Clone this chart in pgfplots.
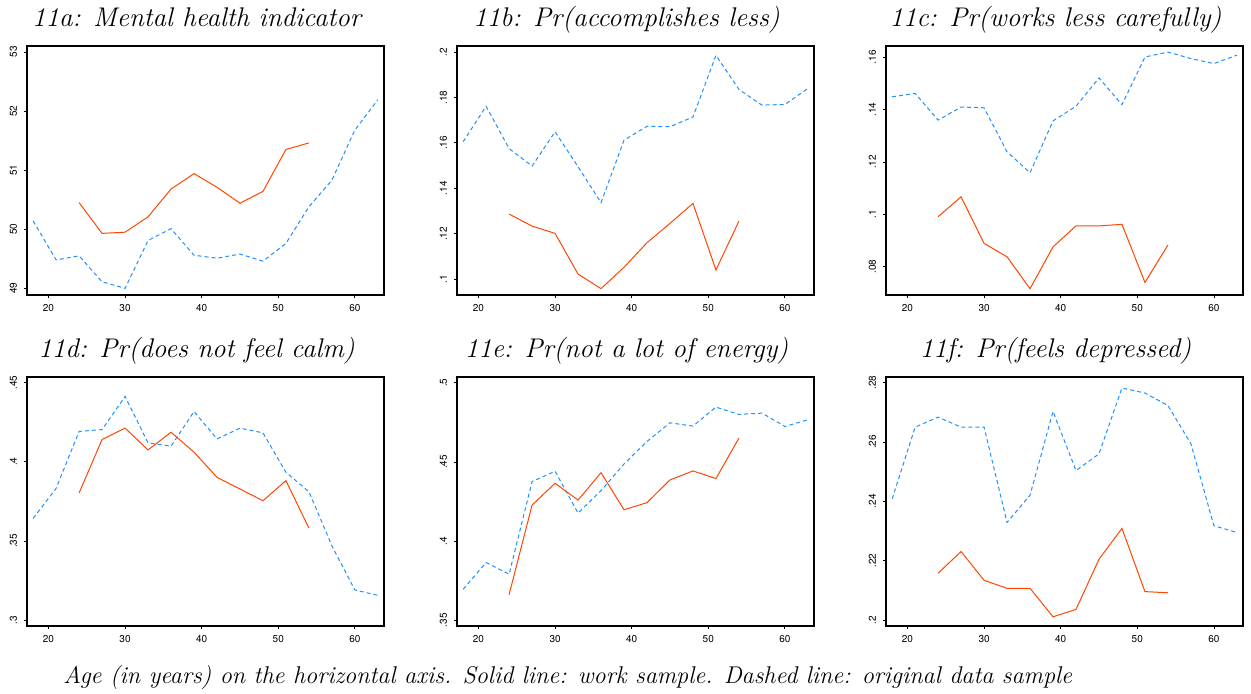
\documentclass[border=0pt]{standalone}
\usepackage{pgfplots}
\pgfplotsset{compat=1.18}
\usepackage{pgfplotstable}
\usepackage{fontspec}
\newfontfamily\tickfont{TeX Gyre Heros}
\definecolor{dblue}{RGB}{30,144,255}
\definecolor{ored}{RGB}{255,69,0}

% dashed: original data sample (ages 18..63); solid: work sample (ages 24..54)
\pgfplotstableread{
age a b c d e f
18 50.14 .1605 .1449 .3642 .3696 .2408
21 49.48 .1761 .1462 .3832 .3865 .2650
24 49.55 .1575 .1360 .4192 .3791 .2684
27 49.11 .1498 .1410 .4204 .4376 .2650
30 49.00 .1649 .1407 .4413 .4441 .2650
33 49.81 .1495 .1239 .4120 .4177 .2329
36 50.01 .1337 .1159 .4099 .4319 .2421
39 49.56 .1612 .1357 .4318 .4487 .2703
42 49.51 .1673 .1413 .4145 .4629 .2504
45 49.58 .1671 .1521 .4213 .4747 .2560
48 49.46 .1714 .1419 .4183 .4726 .2782
51 49.76 .1985 .1601 .3934 .4846 .2765
54 50.38 .1835 .1620 .3811 .4800 .2723
57 50.83 .1766 .1595 .3469 .4808 .2594
60 51.68 .1769 .1576 .3190 .4724 .2318
63 52.19 .1839 .1608 .3156 .4766 .2295
}\orig
\pgfplotstableread{
age a b c d e f
24 50.45 .1287 .0991 .3803 .3662 .2158
27 49.93 .1234 .1067 .4141 .4228 .2231
30 49.95 .1202 .0889 .4213 .4365 .2134
33 50.21 .1023 .0838 .4075 .4259 .2107
36 50.68 .0959 .0716 .4187 .4432 .2107
39 50.94 .1053 .0876 .4061 .4198 .2011
42 50.71 .1161 .0956 .3902 .4243 .2036
45 50.44 .1246 .0956 .3828 .4386 .2205
48 50.64 .1334 .0962 .3754 .4443 .2309
51 51.35 .1041 .0740 .3881 .4395 .2096
54 51.46 .1256 .0883 .3581 .4650 .2092
}\work

\pgfplotsset{
  panel/.style={
    scale only axis, width=178.5pt, height=124.5pt,
    anchor=north west,
    xmin=17.2, xmax=63.8,
    xtick={20,30,40,50,60},
    xtick pos=bottom, ytick pos=left,
    tick align=outside, major tick length=1.5pt,
    tick style={black, line width=0.4pt},
    axis line style={black, line width=0.6pt},
    /pgf/number format/assume math mode=true,
    ticklabel style={font=\tickfont\fontsize{5}{5}\selectfont},
    yticklabel style={rotate=90, anchor=south},
    xticklabel style={yshift=0.5pt},
    title style={font=\itshape\fontsize{13.5}{15}\selectfont, anchor=base, at={(0.5,1)}, yshift=4pt, xshift=-4.5pt},
  },
  orig/.style={dblue, line width=0.5pt, dash pattern=on 2pt off 1.5pt},
  work/.style={ored, line width=0.5pt},
}

\begin{document}
\begin{tikzpicture}
\path[use as bounding box] (0,0) rectangle (625.5pt,-346.5pt);

\begin{axis}[panel, at={(13.5pt,-23pt)}, title={11a: Mental health indicator},
  ymin=48.887, ymax=53.10, ytick={49,50,51,52,53}, yticklabels={49,50,51,52,53}]
\addplot[orig] table[x=age,y=a] {\orig};
\addplot[work] table[x=age,y=a] {\work};
\end{axis}

\begin{axis}[panel, at={(228.5pt,-23pt)}, title={11b: Pr(accomplishes less)},
  ymin=.0931, ymax=.2026, ytick={.1,.12,.14,.16,.18,.2}, yticklabels={.1,.12,.14,.16,.18,.2}]
\addplot[orig] table[x=age,y=b] {\orig};
\addplot[work] table[x=age,y=b] {\work};
\end{axis}

\begin{axis}[panel, at={(443pt,-23pt)}, title={11c: Pr(works less carefully)},
  ymin=.0692, ymax=.1643, ytick={.08,.1,.12,.14,.16}, yticklabels={.08,.1,.12,.14,.16}]
\addplot[orig] table[x=age,y=c] {\orig};
\addplot[work] table[x=age,y=c] {\work};
\end{axis}

\begin{axis}[panel, at={(13.5pt,-188.5pt)}, title={11d: Pr(does not feel calm)},
  ymin=.2962, ymax=.4536, ytick={.3,.35,.4,.45}, yticklabels={.3,.35,.4,.45}]
\addplot[orig] table[x=age,y=d] {\orig};
\addplot[work] table[x=age,y=d] {\work};
\end{axis}

\begin{axis}[panel, at={(228.5pt,-188.5pt)}, title={11e: Pr(not a lot of energy)},
  ymin=.3464, ymax=.5036, ytick={.35,.4,.45,.5}, yticklabels={.35,.4,.45,.5}]
\addplot[orig] table[x=age,y=e] {\orig};
\addplot[work] table[x=age,y=e] {\work};
\end{axis}

\begin{axis}[panel, at={(443pt,-188.5pt)}, title={11f: Pr(feels depressed)},
  ymin=.198, ymax=.2819, ytick={.2,.22,.24,.26,.28}, yticklabels={.2,.22,.24,.26,.28}]
\addplot[orig] table[x=age,y=f] {\orig};
\addplot[work] table[x=age,y=f] {\work};
\end{axis}

\node[anchor=base west, inner sep=0pt, font=\itshape\fontsize{12.1}{14}\selectfont] at (31.5pt,-341.5pt)
  {Age (in years) on the horizontal axis. Solid line: work sample. Dashed line: original data sample};
\end{tikzpicture}
\end{document}
